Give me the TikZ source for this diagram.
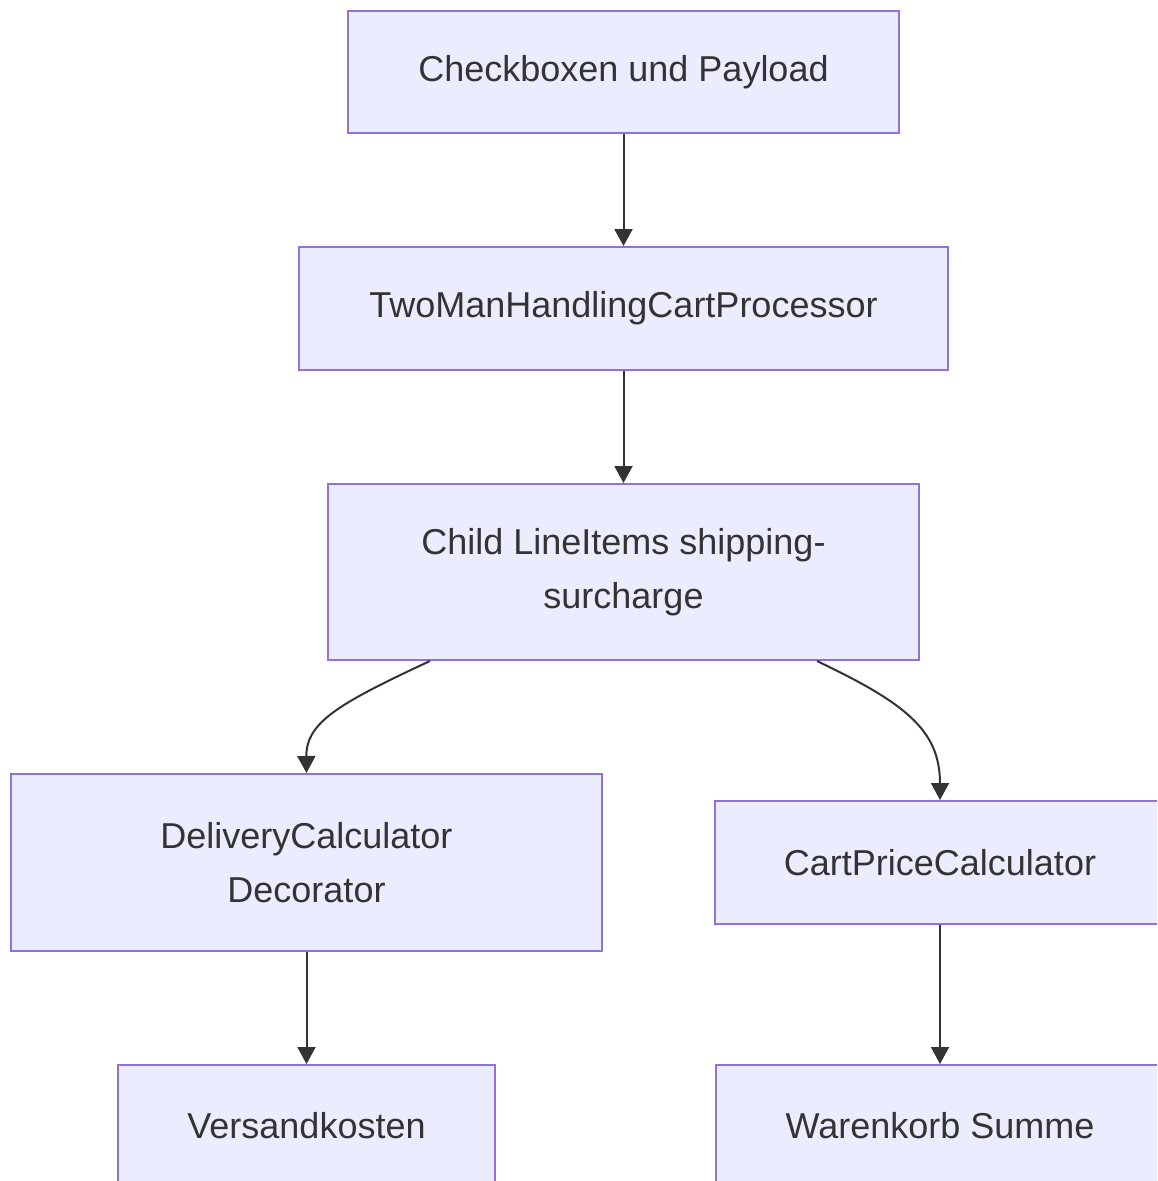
\documentclass[tikz,border=0pt]{standalone}
\usepackage{fontspec}
\setmainfont{Liberation Sans}
\usetikzlibrary{arrows.meta}
\definecolor{boxfill}{HTML}{ECECFF}
\definecolor{boxline}{HTML}{9370DB}
\definecolor{edgec}{HTML}{333333}
\begin{document}
\begin{tikzpicture}[x=1pt,y=-1pt,
  box/.style={draw=boxline,fill=boxfill,line width=2pt,inner sep=0pt,align=center,
    font=\fontsize{36}{54}\selectfont,text=edgec},
  edge/.style={draw=edgec,line width=2pt,-{Triangle[length=17pt,width=18pt]}}]
\useasboundingbox[clip] (0,0) rectangle (1157,1181);
\node[box,minimum width=551pt,minimum height=122pt] (a) at (623.5,72) {Checkboxen und Payload};
\node[box,minimum width=649pt,minimum height=123pt] (b) at (623.5,308.5) {TwoManHandlingCartProcessor};
\node[box,minimum width=591pt,minimum height=176pt] (c) at (623.5,572) {Child LineItems shipping-\\surcharge};
\node[box,minimum width=591pt,minimum height=177pt] (d) at (306.5,862.5) {DeliveryCalculator\\Decorator};
\node[box,minimum width=450pt,minimum height=123pt] (e) at (940,862.5) {CartPriceCalculator};
\node[box,minimum width=377pt,minimum height=122pt] (f) at (306.5,1126) {Versandkosten};
\node[box,minimum width=448pt,minimum height=122pt] (g) at (940,1126) {Warenkorb Summe};
\draw[edge] (a) -- (b);
\draw[edge] (b) -- (c);
\draw[edge] ([xshift=-193.5pt]c.south) .. controls (340,703) and (306,722) .. (d.north);
\draw[edge] ([xshift=193.5pt]c.south) .. controls (905,703) and (940,730) .. (e.north);
\draw[edge] (d) -- (f);
\draw[edge] (e) -- (g);
\end{tikzpicture}
\end{document}
